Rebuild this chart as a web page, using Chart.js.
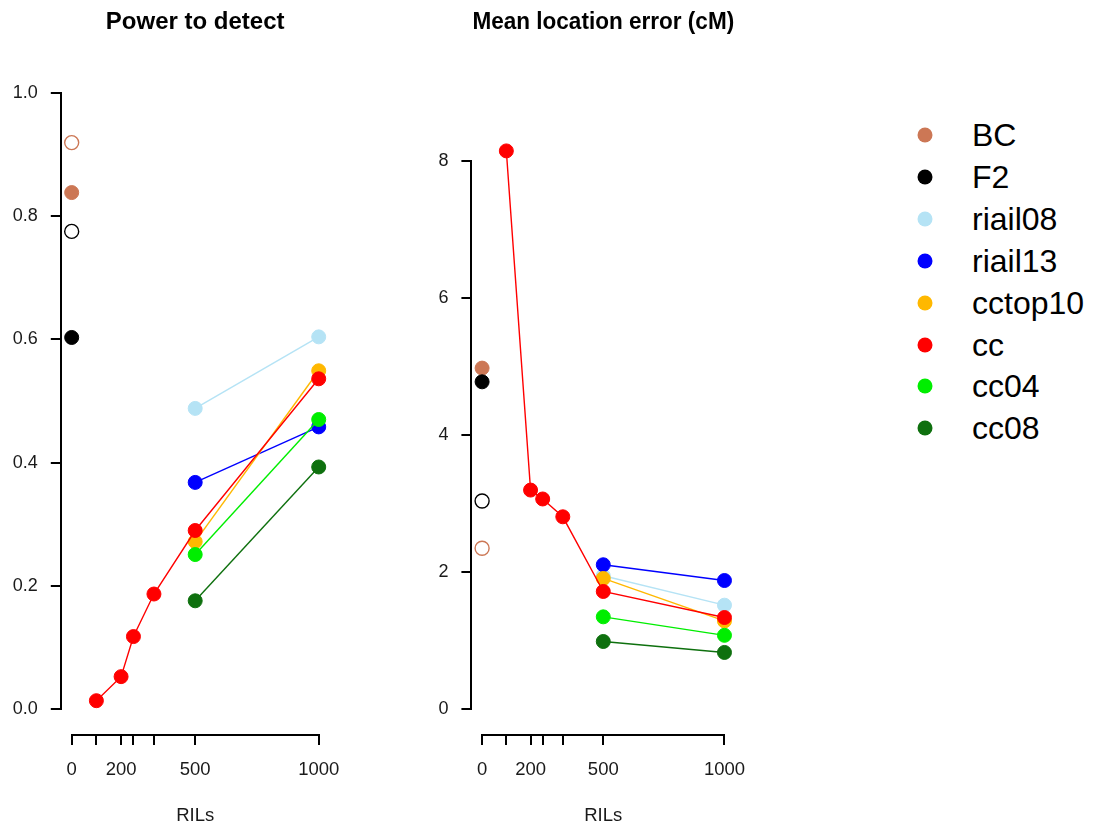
<!DOCTYPE html>
<html>
<head>
<meta charset="utf-8">
<script src="https://cdn.jsdelivr.net/npm/chart.js@4.4.1/dist/chart.umd.min.js"></script>
<style>
  html, body { margin: 0; padding: 0; background: #fff; }
  body { width: 1095px; height: 827px; position: relative; overflow: hidden;
         font-family: "Liberation Sans", Arial, sans-serif; }
  canvas { position: absolute; top: 0; }
  #c1 { left: 0px; }
  #c2 { left: 380px; }
  .ldot { position: absolute; width: 15px; height: 15px; border-radius: 50%; transform: translate(-50%, -50%); }
  .ltxt { position: absolute; font-size: 32px; line-height: 1; color: #000; transform: translateY(-50%); white-space: nowrap; }
</style>
</head>
<body>
<canvas id="c1" width="360" height="827"></canvas>
<canvas id="c2" width="380" height="827"></canvas>
<div id="legend"></div>
<script>
// ---------- data ----------
const powerTitle = "Power to detect";
const errorTitle = "Mean location error (cM)";
const xTitle = "RILs";

const xTickValues = [0, 100, 200, 250, 333, 500, 1000];
const xTickLabels = ["0", "", "200", "", "", "500", "1000"];
const powerYTicks = [0, 0.2, 0.4, 0.6, 0.8, 1.0];
const errorYTicks = [0, 2, 4, 6, 8];

const seriesNames  = ["BC", "F2", "riail08", "riail13", "cctop10", "cc", "cc04", "cc08"];
const seriesColors = ["#CC7755", "#000000", "#B5E3F5", "#0000FF", "#FFB800", "#FF0000", "#00EE00", "#0E700E"];

const baseRILs = [0];
const pairRILs = [500, 1000];
const ccRILs   = [100, 200, 250, 333, 500, 1000];
const seriesRILs = [baseRILs, baseRILs, pairRILs, pairRILs, pairRILs, ccRILs, pairRILs, pairRILs];

// power to detect
const powerBC      = [0.838];
const powerF2      = [0.603];
const powerRiail08 = [0.488, 0.604];
const powerRiail13 = [0.368, 0.458];
const powerCctop10 = [0.272, 0.549];
const powerCc      = [0.014, 0.053, 0.118, 0.187, 0.290, 0.536];
const powerCc04    = [0.251, 0.470];
const powerCc08    = [0.176, 0.393];
// open circles at 0 RILs
const powerBCopen  = [0.919];
const powerF2open  = [0.775];

// mean location error (cM)
const errorBC      = [4.98];
const errorF2      = [4.78];
const errorRiail08 = [1.95, 1.52];
const errorRiail13 = [2.11, 1.88];
const errorCctop10 = [1.91, 1.29];
const errorCc      = [8.15, 3.20, 3.07, 2.81, 1.72, 1.34];
const errorCc04    = [1.35, 1.08];
const errorCc08    = [0.99, 0.83];
const errorBCopen  = [2.35];
const errorF2open  = [3.04];

const powerSeries = [powerBC, powerF2, powerRiail08, powerRiail13, powerCctop10, powerCc, powerCc04, powerCc08];
const errorSeries = [errorBC, errorF2, errorRiail08, errorRiail13, errorCctop10, errorCc, errorCc04, errorCc08];

// ---------- chart building ----------
Chart.defaults.font.family = '"Liberation Sans", Arial, sans-serif';
Chart.defaults.color = '#1a1a1a';

function buildDatasets(series, bcOpen, f2Open) {
  const ds = [];
  ds.push({ label: 'BC (open)', data: baseRILs.map((x, i) => ({x, y: bcOpen[i]})),
            showLine: false, pointRadius: 7, pointBorderWidth: 1.4,
            pointBackgroundColor: 'rgba(0,0,0,0)', pointBorderColor: seriesColors[0] });
  ds.push({ label: 'F2 (open)', data: baseRILs.map((x, i) => ({x, y: f2Open[i]})),
            showLine: false, pointRadius: 7, pointBorderWidth: 1.4,
            pointBackgroundColor: 'rgba(0,0,0,0)', pointBorderColor: seriesColors[1] });
  series.forEach((vals, k) => {
    ds.push({
      label: seriesNames[k],
      data: seriesRILs[k].map((x, i) => ({x, y: vals[i]})),
      showLine: true,
      borderColor: seriesColors[k],
      borderWidth: 1.4,
      pointRadius: 7,
      pointBorderWidth: 1,
      pointBackgroundColor: seriesColors[k],
      pointBorderColor: seriesColors[k]
    });
  });
  const n = ds.length;
  ds.forEach((d, i) => { d.order = n - i; });
  return ds;
}

const rAxes = {
  id: 'rAxes',
  afterDraw(chart, args, opts) {
    const {ctx, chartArea, scales: {x, y}} = chart;
    const by = Math.round(chartArea.bottom) + 1;
    const lx = Math.round(chartArea.left) - 1;
    ctx.save();
    ctx.strokeStyle = '#000';
    ctx.lineWidth = 2;
    ctx.lineCap = 'butt';
    ctx.beginPath();
    ctx.moveTo(Math.round(x.getPixelForValue(xTickValues[0])) - 1, by);
    ctx.lineTo(Math.round(x.getPixelForValue(xTickValues[xTickValues.length - 1])) + 1, by);
    ctx.moveTo(lx, Math.round(y.getPixelForValue(opts.yTicks[0])) + 1);
    ctx.lineTo(lx, Math.round(y.getPixelForValue(opts.yTicks[opts.yTicks.length - 1])) - 1);
    ctx.stroke();
    ctx.restore();
  }
};

function makeChart(id, title, datasets, yTicks, yMin, yMax, yFmt, yWidth, padRight) {
  return new Chart(document.getElementById(id), {
    type: 'scatter',
    data: { datasets },
    plugins: [rAxes],
    options: {
      responsive: false,
      animation: false,
      events: [],
      layout: { padding: { left: 0, right: padRight, top: 0, bottom: 0 } },
      plugins: {
        legend: { display: false },
        tooltip: { enabled: false },
        title: { display: true, text: title, fullSize: false, color: '#000',
                 font: { size: 24, weight: 'bold' }, padding: { top: 7.5, bottom: 31.7 } },
        rAxes: { yTicks }
      },
      scales: {
        x: {
          type: 'linear', min: -40, max: 1040,
          afterBuildTicks: s => { s.ticks = xTickValues.map(v => ({ value: v })); },
          afterFit: s => { s.height = 93; },
          ticks: { autoSkip: false, maxRotation: 0, minRotation: 0, padding: 14,
                   color: '#1a1a1a', font: { size: 18.5 },
                   callback: (v, i) => xTickLabels[i] },
          grid: { drawOnChartArea: false, drawTicks: true, tickLength: 11, color: '#000', lineWidth: 2 },
          border: { display: false },
          title: { display: true, text: xTitle, color: '#1a1a1a', font: { size: 18.5 },
                   padding: { top: 0, bottom: 0 } }
        },
        y: {
          type: 'linear', min: yMin, max: yMax,
          afterBuildTicks: s => { s.ticks = yTicks.map(v => ({ value: v })); },
          afterFit: s => { s.width = yWidth; },
          ticks: { autoSkip: false, padding: 13, color: '#1a1a1a', font: { size: 18 },
                   callback: v => yFmt(v) },
          grid: { drawOnChartArea: false, drawTicks: true, tickLength: 11, color: '#000', lineWidth: 2 },
          border: { display: false }
        }
      }
    }
  });
}

makeChart('c1', powerTitle, buildDatasets(powerSeries, powerBCopen, powerF2open),
          powerYTicks, -0.04, 1.04, v => v.toFixed(1), 61.8, 360 - 328.6);
makeChart('c2', errorTitle, buildDatasets(errorSeries, errorBCopen, errorF2open),
          errorYTicks, -0.36, 9.36, v => String(v), 92.4, 380 - 359.3);

// ---------- legend ----------
const legend = document.getElementById('legend');
seriesNames.forEach((name, i) => {
  const cy = 135 + i * 41.9;
  const d = document.createElement('div');
  d.className = 'ldot';
  d.style.left = '925px';
  d.style.top = cy + 'px';
  d.style.background = seriesColors[i];
  legend.appendChild(d);
  const t = document.createElement('div');
  t.className = 'ltxt';
  t.style.left = '972px';
  t.style.top = cy + 'px';
  t.textContent = name;
  legend.appendChild(t);
});
</script>
</body>
</html>
